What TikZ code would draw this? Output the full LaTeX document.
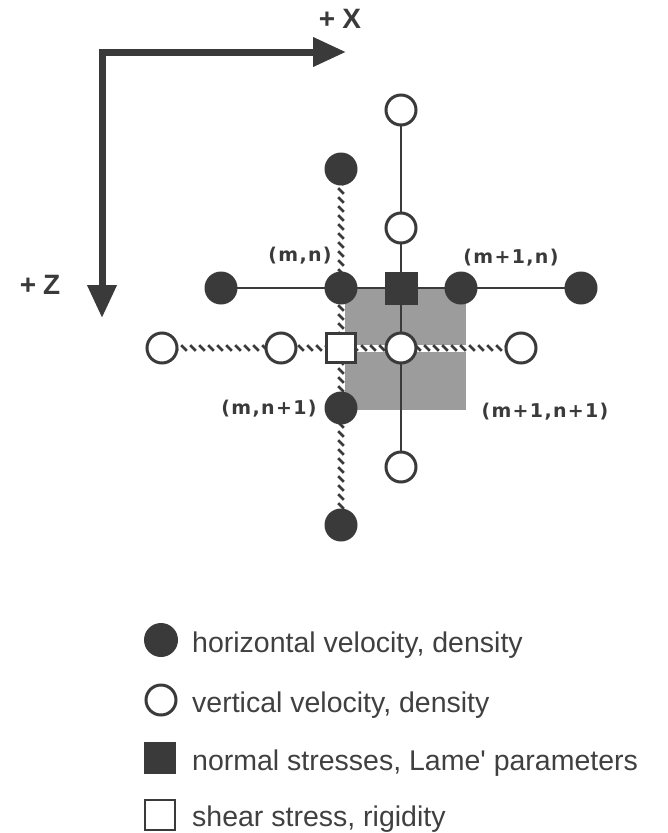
\documentclass[tikz,border=0pt]{standalone}
\usepackage{fontspec}
\setmainfont{Liberation Sans}
\newfontfamily\labfont{DejaVu Sans}[LetterSpace=7]
\usetikzlibrary{arrows.meta,decorations.markings}
\definecolor{dk}{HTML}{3A3A3A}
\definecolor{txt}{HTML}{404040}
\definecolor{cellgray}{HTML}{9C9C9C}
\pgfdeclarelayer{background}
\pgfsetlayers{background,main}
\tikzset{
  hvel/.style={circle,fill=dk,minimum size=33pt,inner sep=0pt},
  vvel/.style={circle,draw=dk,line width=3pt,fill=white,minimum size=30pt,inner sep=0pt},
  nstress/.style={rectangle,fill=dk,minimum size=33pt,inner sep=0pt},
  sstress/.style={rectangle,draw=dk,line width=2.5pt,fill=white,minimum size=29pt,inner sep=0pt},
  solidlink/.style={draw=dk,line width=1.3pt},
  hatchlink/.style={draw=white,line width=7pt,
    postaction={decorate,decoration={markings,
      mark=between positions 4pt and -2pt step 9pt with {\pgftransformresetnontranslations
        \draw[dk,line width=2.8pt] (-2.8pt,2.8pt) -- (2.8pt,-2.8pt);}}}},
  axisline/.style={draw=dk,line width=7pt,line join=miter,
    {Triangle[length=33pt,width=28pt]}-{Triangle[length=33pt,width=28pt]}},
  axislabel/.style={text=dk,font=\fontsize{28}{31}\selectfont\bfseries},
  gridlabel/.style={text=dk,font=\labfont\fontsize{19}{22}\selectfont\bfseries},
  legendtext/.style={text=txt,anchor=base west,font=\fontsize{28.5}{32}\selectfont,inner sep=0pt}
}
\begin{document}
\begin{tikzpicture}[x=1pt,y=-1pt]
\useasboundingbox (0,0) rectangle (667,833);

% axes
\coordinate (xtip) at (346,52);
\coordinate (corner) at (102,52);
\coordinate (ztip) at (102,318);
\draw[axisline] (xtip) -- (corner) -- (ztip);
\node[axislabel] (xlab) at (340,19) {+\kern7pt X};
\node[axislabel] (zlab) at (40,285) {+\kern7pt Z};

% grid nodes
\node[vvel] (v1) at (401,110) {};
\node[hvel] (h1) at (341,169) {};
\node[vvel] (v2) at (401,228) {};
\node[hvel] (hL) at (221,288) {};
\node[hvel] (hmn) at (341,288) {};
\node[nstress] (nsq) at (401,288) {};
\node[hvel] (hmone) at (461,288) {};
\node[hvel] (hR) at (581,288) {};
\node[vvel] (vLL) at (162,348) {};
\node[vvel] (vL) at (281,348) {};
\node[sstress] (ssq) at (341,348) {};
\node[vvel] (vc) at (401,348) {};
\node[vvel] (vR) at (521,348) {};
\node[hvel] (hmn1) at (341,408) {};
\node[vvel] (v3) at (401,467) {};
\node[hvel] (h2) at (341,525) {};

% labels
\node[gridlabel] (lmn) at (300,256) {(m,n)};
\node[gridlabel] (lm1n) at (511,258) {(m+1,n)};
\node[gridlabel] (lmn1) at (269,409) {(m,n+1)};
\node[gridlabel] (lm1n1) at (545,412) {(m+1,n+1)};

\begin{pgfonlayer}{background}
  \fill[cellgray] (hmn.center) rectangle (466,410);
  \draw[solidlink] (hL.center) -- (hR.center);
  \draw[solidlink] (v1.center) -- (v3.center);
  \path[hatchlink] (h1.center) -- (h2.center);
  \path[hatchlink] (vLL.center) -- (vR.center);
\end{pgfonlayer}

% legend
\node[hvel,minimum size=34pt] (k1) at (161,640) {};
\node[legendtext] (t1) at (192,652) {horizontal velocity, density};
\node[vvel,minimum size=30pt] (k2) at (161,700) {};
\node[legendtext] (t2) at (192,712) {vertical velocity, density};
\node[nstress,minimum size=32pt] (k3) at (160,758) {};
\node[legendtext] (t3) at (192,770) {normal stresses, Lame\textquotesingle\ parameters};
\node[sstress,minimum size=30pt] (k4) at (160,815) {};
\node[legendtext] (t4) at (192,826) {shear stress, rigidity};
\end{tikzpicture}
\end{document}
